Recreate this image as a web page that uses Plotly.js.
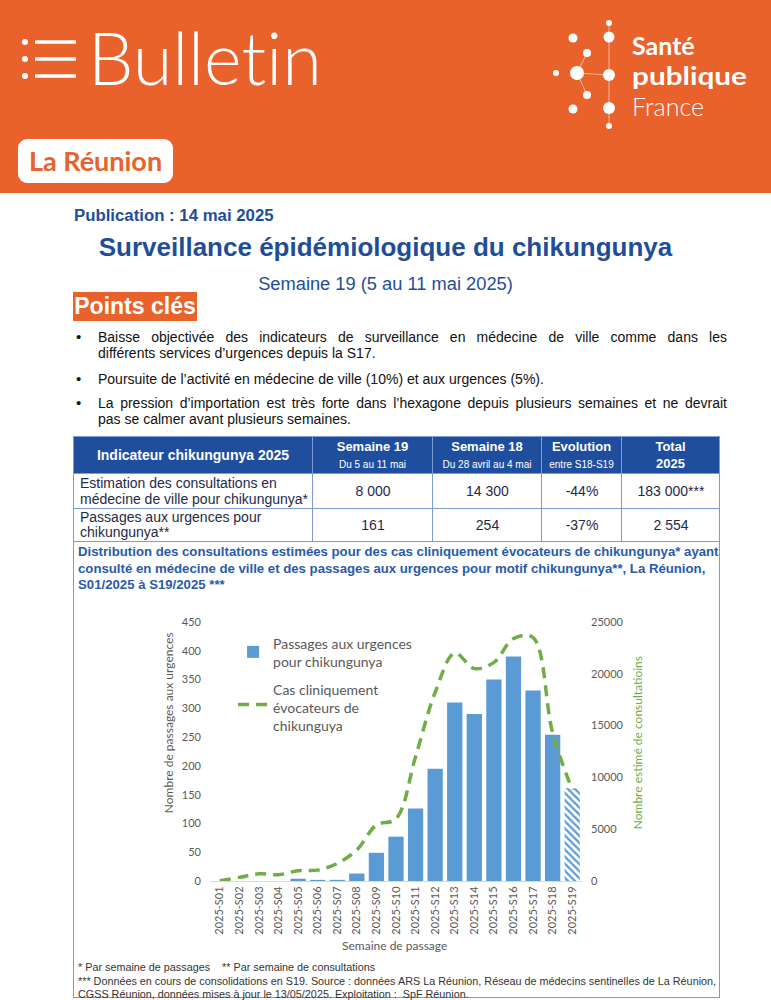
<!DOCTYPE html>
<html lang="fr">
<head>
<meta charset="utf-8">
<script src="https://cdn.plot.ly/plotly-3.0.1.min.js"></script>
<style>
  html, body { margin: 0; padding: 0; background: #fff; }
  body { width: 771px; height: 1000px; position: relative; overflow: hidden; font-family: "Liberation Sans", Arial, sans-serif; }
  .abs { position: absolute; }
  #header { left: 0; top: 0; width: 771px; height: 193px; background: #E9612B; }
  .bul { color: #fff; font-family: Lato, "Open Sans", sans-serif; font-weight: 300; font-size: 72px; line-height: 72px; font-variant-ligatures: none; }
  #reunion { left: 18px; top: 139px; width: 155px; height: 44px; background: #fff; border-radius: 9px; color: #E9612B; font-family: Lato, "Open Sans", sans-serif; font-weight: 700; font-size: 27px; line-height: 44px; text-align: center; }
  .blue { color: #1F4E99; }
  .bullet { left: 76px; font-size: 15px; color: #111; }
  .line { left: 98px; width: 629px; font-size: 14px; color: #111; white-space: nowrap; }
  .just { text-align: justify; text-align-last: justify; white-space: normal; }
  table { border-collapse: collapse; table-layout: fixed; }
  td { border: 1px solid #7D9CD1; padding: 0 5px 0 6px; font-size: 14px; color: #1E2A48; white-space: nowrap; overflow: hidden; }
  th { background: #1F4E9E; color: #fff; border: 1px solid #7D9CD1; font-weight: 700; font-size: 13px; padding: 0; line-height: 17px; white-space: nowrap; }
  th small { font-weight: 400; font-size: 10px; }
  .foot { left: 78px; font-size: 10.8px; line-height: 13px; color: #333; white-space: nowrap; }
</style>
</head>
<body>
<div id="header" class="abs"></div>
<svg class="abs" style="left:0;top:0" width="771" height="193">
  <g fill="#fff" stroke="#fff">
    <circle cx="25" cy="42" r="3" stroke="none"/>
    <circle cx="25" cy="59" r="3" stroke="none"/>
    <circle cx="25" cy="76" r="3" stroke="none"/>
    <line x1="35" y1="42" x2="76" y2="42" stroke-width="3.5"/>
    <line x1="35" y1="59" x2="76" y2="59" stroke-width="3.5"/>
    <line x1="35" y1="76" x2="76" y2="76" stroke-width="3.5"/>
  </g>
  <g fill="#fff" stroke="#fff">
    <line x1="609" y1="23" x2="609" y2="126" stroke-width="1" stroke="#F7B69A"/>
    <line x1="577" y1="73" x2="587" y2="53" stroke-width="1" stroke="#F7B69A"/>
    <line x1="577" y1="73" x2="609" y2="75" stroke-width="1" stroke="#F7B69A"/>
    <line x1="577" y1="73" x2="587" y2="95" stroke-width="1" stroke="#F7B69A"/>
    <circle cx="609" cy="23" r="3" stroke="none"/>
    <circle cx="573" cy="38" r="4.5" stroke="none"/>
    <circle cx="609" cy="37" r="5.5" stroke="none"/>
    <circle cx="587" cy="53" r="4" stroke="none"/>
    <circle cx="556" cy="73" r="3" stroke="none"/>
    <circle cx="577" cy="73" r="7" stroke="none"/>
    <circle cx="609" cy="75" r="6" stroke="none"/>
    <circle cx="587" cy="95" r="4" stroke="none"/>
    <circle cx="573" cy="109" r="4.5" stroke="none"/>
    <circle cx="609" cy="108" r="6" stroke="none"/>
    <circle cx="609" cy="126" r="3" stroke="none"/>
  </g>
  <g fill="#fff" font-family="Lato, 'Open Sans', sans-serif" font-size="25">
    <text x="632" y="55" font-weight="700">Santé</text>
    <text x="632" y="85" font-weight="700" textLength="115" lengthAdjust="spacingAndGlyphs">publique</text>
    <text x="632" y="116" font-weight="300">France</text>
  </g>
</svg>
<div class="abs bul" style="left:88px;top:21px;">Bulletin</div>
<div id="reunion" class="abs">La Réunion</div>

<div class="abs blue" style="left:74px;top:206px;font-size:16.8px;font-weight:700;">Publication : 14 mai 2025</div>
<div class="abs blue" style="left:0;width:771px;top:232px;font-size:26px;font-weight:700;text-align:center;">Surveillance épidémiologique du chikungunya</div>
<div class="abs blue" style="left:0;width:771px;top:273px;font-size:18.3px;text-align:center;">Semaine 19 (5 au 11 mai 2025)</div>
<div class="abs" style="left:73px;top:292px;width:124px;height:29px;background:#E9612B;color:#fff;font-size:23px;font-weight:700;line-height:29px;text-align:center;">Points clés</div>

<div class="abs bullet" style="top:328px;">•</div>
<div class="abs line just" style="top:329px;">Baisse objectivée des indicateurs de surveillance en médecine de ville comme dans les</div>
<div class="abs line" style="top:345px;">différents services d’urgences depuis la S17.</div>
<div class="abs bullet" style="top:370px;">•</div>
<div class="abs line" style="top:371px;">Poursuite de l’activité en médecine de ville (10%) et aux urgences (5%).</div>
<div class="abs bullet" style="top:394px;">•</div>
<div class="abs line just" style="top:395px;">La pression d’importation est très forte dans l’hexagone depuis plusieurs semaines et ne devrait</div>
<div class="abs line" style="top:411px;">pas se calmer avant plusieurs semaines.</div>

<table class="abs" style="left:73px;top:436px;width:647px;">
  <colgroup><col style="width:239px"><col style="width:120px"><col style="width:109px"><col style="width:80px"><col style="width:98px"></colgroup>
  <tr style="height:37px;">
    <th style="font-size:14px;">Indicateur chikungunya 2025</th>
    <th>Semaine 19<br><small>Du 5 au 11 mai</small></th>
    <th>Semaine 18<br><small>Du 28 avril au 4 mai</small></th>
    <th>Evolution<br><small>entre S18-S19</small></th>
    <th>Total<br>2025</th>
  </tr>
  <tr style="height:35px;">
    <td style="line-height:16px;">Estimation des consultations en<br>médecine de ville pour chikungunya*</td>
    <td style="text-align:center;">8 000</td>
    <td style="text-align:center;">14 300</td>
    <td style="text-align:center;">-44%</td>
    <td style="text-align:center;">183 000***</td>
  </tr>
  <tr style="height:33px;">
    <td style="line-height:15px;">Passages aux urgences pour<br>chikungunya**</td>
    <td style="text-align:center;">161</td>
    <td style="text-align:center;">254</td>
    <td style="text-align:center;">-37%</td>
    <td style="text-align:center;">2 554</td>
  </tr>
</table>
<div class="abs" style="left:73px;top:541px;width:645px;height:456px;border:1px solid #7D9CD1;border-top:none;"></div>
<div class="abs" style="left:78px;top:544px;font-size:13.2px;font-weight:700;color:#2A5BA8;line-height:16.5px;white-space:nowrap;">Distribution des consultations estimées pour des cas cliniquement évocateurs de chikungunya* ayant<br>consulté en médecine de ville et des passages aux urgences pour motif chikungunya**, La Réunion,<br>S01/2025 à S19/2025 ***</div>

<div id="chart" class="abs" style="left:75px;top:595px;width:640px;height:360px;"></div>

<div class="abs foot" style="top:961px;">* Par semaine de passages &nbsp;&nbsp;&nbsp;** Par semaine de consultations</div>
<div class="abs foot" style="top:975px;">*** Données en cours de consolidations en S19. Source : données ARS La Réunion, Réseau de médecins sentinelles de La Réunion,</div>
<div class="abs foot" style="top:988px;">CGSS Réunion, données mises à jour le 13/05/2025. Exploitation :&nbsp; SpF Réunion.</div>

<script>
const weeks = ['2025-S01','2025-S02','2025-S03','2025-S04','2025-S05','2025-S06','2025-S07','2025-S08','2025-S09','2025-S10','2025-S11','2025-S12','2025-S13','2025-S14','2025-S15','2025-S16','2025-S17','2025-S18','2025-S19'];
const passages = [0,0,0,0,4,2,2,13,49,77,126,195,310,290,350,390,331,254,161];
const consultations = [30,350,700,600,1000,1050,1700,3000,5400,6000,12000,18200,22000,20500,21100,23400,23500,14300,8800];
const hatchPattern = weeks.map((w, i) => i === weeks.length - 1 ? '\\' : '');
const leftTicks = [0,50,100,150,200,250,300,350,400,450];
const rightTicks = [0,5000,10000,15000,20000,25000];

const fontFam = 'Lato, "Open Sans", sans-serif';
const gray = '#595959';

const traces = [
  {
    type: 'bar', x: weeks, y: passages,
    name: 'Passages aux urgences<br>pour chikungunya', legendgroup: 'a',
    marker: { color: '#5B9BD5', pattern: { shape: hatchPattern, fgcolor: '#5B9BD5', bgcolor: '#ffffff', size: 5, solidity: 0.45 } },
    yaxis: 'y'
  },
  {
    type: 'scatter', mode: 'lines', x: weeks, y: consultations,
    name: 'Cas cliniquement<br>évocateurs de<br>chikunguya', legendgroup: 'b',
    line: { color: '#70AD47', width: 3.5, dash: '11px,7px', shape: 'spline', smoothing: 1 },
    yaxis: 'y2'
  }
];

const layout = {
  width: 640, height: 360,
  margin: { l: 135, r: 133, t: 27, b: 74 },
  paper_bgcolor: 'rgba(0,0,0,0)', plot_bgcolor: 'rgba(0,0,0,0)',
  font: { family: fontFam, size: 11, color: gray },
  bargap: 0.22,
  showlegend: true,
  legend: { x: 0.062, y: 0.965, xanchor: 'left', yanchor: 'top', bgcolor: 'rgba(0,0,0,0)', font: { size: 11, color: gray }, itemwidth: 30, traceorder: 'grouped', tracegroupgap: 14 },
  xaxis: {
    type: 'category', tickangle: -90, showgrid: false, zeroline: false,
    showline: true, linecolor: '#D9D9D9', linewidth: 1, ticks: '',
    tickfont: { size: 11, color: gray }
  },
  yaxis: {
    range: [0, 450], tickvals: leftTicks, ticktext: leftTicks.map(String),
    showgrid: false, zeroline: false, showline: false, ticks: '', ticklabelstandoff: 8,
    tickfont: { size: 11, color: gray }
  },
  yaxis2: {
    range: [0, 25000], tickvals: rightTicks, ticktext: rightTicks.map(String),
    overlaying: 'y', side: 'right', showgrid: false, zeroline: false, showline: false, ticks: '', ticklabelstandoff: 8,
    tickfont: { size: 11, color: gray }
  },
  annotations: [
    { text: 'Nombre de passages aux urgences', xref: 'paper', yref: 'paper', x: -0.113, y: 0.613, xanchor: 'center', yanchor: 'middle', textangle: -90, showarrow: false, font: { size: 12, color: gray } },
    { text: 'Nombre estimé de consultatioins', xref: 'paper', yref: 'paper', x: 1.148, y: 0.532, xanchor: 'center', yanchor: 'middle', textangle: -90, showarrow: false, font: { size: 12, color: '#70AD47' } },
    { text: 'Semaine de passage', xref: 'paper', yref: 'paper', x: 0.497, y: -0.248, xanchor: 'center', yanchor: 'middle', showarrow: false, font: { size: 12, color: gray } }
  ]
};

Plotly.newPlot('chart', traces, layout, { staticPlot: true, displayModeBar: false });
</script>
</body>
</html>
